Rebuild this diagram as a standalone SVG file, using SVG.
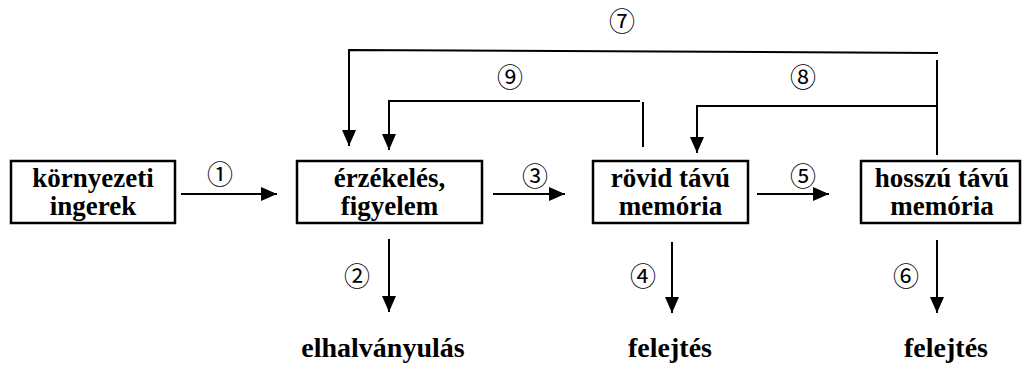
<svg xmlns="http://www.w3.org/2000/svg" width="1022" height="365" viewBox="0 0 1022 365">
<defs>
<style>
.box{fill:#fff;stroke:#000;stroke-width:2.5}
.t{font-family:'Liberation Serif','Times New Roman',serif;font-weight:700;font-size:27px;text-anchor:middle;fill:#000}
.b{font-size:28px}
.n{font-family:'Noto Sans CJK JP','DejaVu Sans',sans-serif;font-size:26px;text-anchor:middle;fill:#000}
.c{fill:none;stroke:#000;stroke-width:2}
</style>
<marker id="ah" markerWidth="16" markerHeight="14" refX="16" refY="7" orient="auto" markerUnits="userSpaceOnUse">
<path d="M0,0 L16,7 L0,14 Z" fill="#000"/>
</marker>
</defs>
<rect width="1022" height="365" fill="#fff"/>
<g id="n1"><rect class="box" x="11" y="161" width="164" height="62"/><text class="t" x="93" y="187">környezeti</text><text class="t" x="93" y="215">ingerek</text></g>
<g id="n2"><rect class="box" x="297" y="161" width="185" height="62"/><text class="t" x="389.5" y="187">érzékelés,</text><text class="t" x="389.5" y="215">figyelem</text></g>
<g id="n3"><rect class="box" x="593" y="161" width="155" height="62"/><text class="t" x="670.5" y="187">rövid távú</text><text class="t" x="670.5" y="215">memória</text></g>
<g id="n4"><rect class="box" x="861" y="161" width="159" height="62"/><text class="t" x="942" y="187">hosszú távú</text><text class="t" x="942" y="215">memória</text></g>
<g id="n5"><text class="t b" x="383" y="357">elhalványulás</text></g>
<g id="n6"><text class="t b" x="670" y="357">felejtés</text></g>
<g id="n7"><text class="t b" x="946" y="357">felejtés</text></g>
<g id="connectors">
<line class="c" x1="181" y1="194" x2="277" y2="194" marker-end="url(#ah)"/>
<line class="c" x1="493" y1="194" x2="565" y2="194" marker-end="url(#ah)"/>
<line class="c" x1="757" y1="194" x2="829" y2="194" marker-end="url(#ah)"/>
<line class="c" x1="389" y1="239" x2="389" y2="312" marker-end="url(#ah)"/>
<line class="c" x1="672" y1="242" x2="672" y2="313" marker-end="url(#ah)"/>
<line class="c" x1="937" y1="240" x2="937" y2="313" marker-end="url(#ah)"/>
<polyline class="c" points="938,53 349,50 349,146" marker-end="url(#ah)"/>
<line class="c" x1="937" y1="60" x2="937" y2="155"/>
<polyline class="c" points="937,106 697,106 697,153" marker-end="url(#ah)"/>
<polyline class="c" points="640,101 389,101 389,150" marker-end="url(#ah)"/>
<line class="c" x1="643" y1="102" x2="643" y2="147"/>
<text class="n" x="220" y="184">①</text>
<text class="n" x="357" y="286">②</text>
<text class="n" x="535" y="186">③</text>
<text class="n" x="643" y="286">④</text>
<text class="n" x="803" y="186">⑤</text>
<text class="n" x="906" y="286">⑥</text>
<text class="n" x="622" y="31">⑦</text>
<text class="n" x="803" y="87">⑧</text>
<text class="n" x="510" y="87">⑨</text>
</g>
</svg>
